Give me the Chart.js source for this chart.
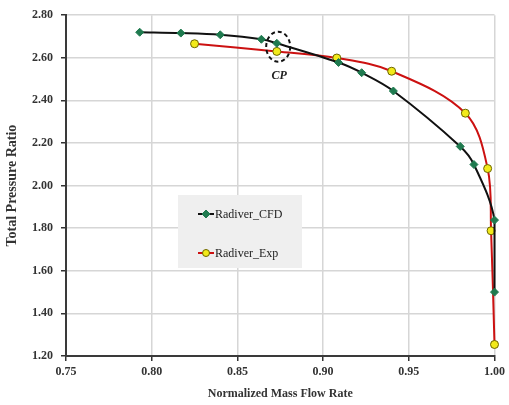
<!DOCTYPE html>
<html>
<head>
<meta charset="utf-8">
<script src="https://cdn.jsdelivr.net/npm/chart.js@4"></script>
<style>
  html, body { margin: 0; padding: 0; background: #fff; }
  #wrap { width: 509px; height: 405px; }
</style>
</head>
<body>
<div id="wrap"><canvas id="myChart" width="509" height="405"></canvas></div>
<script>
// values
const cfdFlow = [0.793, 0.817, 0.840, 0.864, 0.873, 0.909, 0.9225, 0.941, 0.980, 0.988, 1.000, 1.000];
const cfdRatio = [2.720, 2.716, 2.708, 2.687, 2.668, 2.578, 2.530, 2.444, 2.184, 2.099, 1.838, 1.500];
const expFlow = [0.825, 0.873, 0.908, 0.940, 0.983, 0.996, 0.998, 1.000];
const expRatio = [2.666, 2.630, 2.599, 2.537, 2.340, 2.080, 1.788, 1.254];
const seriesNames = ['Radiver_CFD', 'Radiver_Exp'];
const xTicks = [0.75, 0.80, 0.85, 0.90, 0.95, 1.00];
const yTicks = [1.20, 1.40, 1.60, 1.80, 2.00, 2.20, 2.40, 2.60, 2.80];
const cpPoint = { x: 0.8738, y: 2.652, label: 'CP' };

const serif = "'Liberation Serif', 'DejaVu Serif', serif";

document.addEventListener("DOMContentLoaded", () => {
    const ctx = document.getElementById('myChart').getContext('2d');

    const toPoints = (xs, ys) => xs.map((x, i) => ({ x: x, y: ys[i] }));

    // legend box drawn inside the plot, plus the CP marker
    const extras = {
        id: 'extras',
        afterDatasetsDraw(chart) {
            const c = chart.ctx;
            const xs = chart.scales.x, ys = chart.scales.y;

            // CP dashed circle
            const cx = xs.getPixelForValue(cpPoint.x);
            const cy = ys.getPixelForValue(cpPoint.y);
            c.save();
            c.setLineDash([4, 3]);
            c.strokeStyle = '#111';
            c.lineWidth = 2;
            c.beginPath();
            c.ellipse(cx, cy, 12, 15, 0, 0, Math.PI * 2);
            c.stroke();
            c.setLineDash([]);
            c.fillStyle = '#222';
            c.font = "italic bold 12px " + serif;
            c.textAlign = 'center';
            c.textBaseline = 'middle';
            c.fillText(cpPoint.label, cx + 1, cy + 29);

            // legend
            const lx = 178, ly = 195, lw = 124, lh = 73;
            c.fillStyle = '#efefef';
            c.fillRect(lx, ly, lw, lh);
            chart.data.datasets.forEach((ds, i) => {
                const yy = ly + 19 + i * 39;
                c.strokeStyle = ds.borderColor;
                c.lineWidth = 2;
                c.beginPath();
                c.moveTo(lx + 20, yy);
                c.lineTo(lx + 36, yy);
                c.stroke();
                c.fillStyle = ds.pointBackgroundColor;
                c.strokeStyle = ds.pointBorderColor;
                c.lineWidth = 1;
                c.beginPath();
                if (ds.pointStyle === 'rectRot') {
                    c.moveTo(lx + 28, yy - 4);
                    c.lineTo(lx + 32, yy);
                    c.lineTo(lx + 28, yy + 4);
                    c.lineTo(lx + 24, yy);
                    c.closePath();
                } else {
                    c.arc(lx + 28, yy, 3.5, 0, Math.PI * 2);
                }
                c.fill();
                c.stroke();
                c.fillStyle = '#222';
                c.font = "12px " + serif;
                c.textAlign = 'left';
                c.fillText(ds.label, lx + 37, yy + 1);
            });
            c.restore();
        }
    };

    new Chart(ctx, {
        type: 'scatter',
        data: {
            datasets: [{
                label: seriesNames[0],
                data: toPoints(cfdFlow, cfdRatio),
                showLine: true,
                tension: 0.35,
                clip: 6,
                borderColor: '#111111',
                borderWidth: 2,
                pointStyle: 'rectRot',
                pointRadius: 4,
                pointBackgroundColor: '#1f7a4f',
                pointBorderColor: '#1f7a4f',
                pointBorderWidth: 1,
            }, {
                label: seriesNames[1],
                data: toPoints(expFlow, expRatio),
                showLine: true,
                tension: 0.35,
                clip: 6,
                borderColor: '#cc1111',
                borderWidth: 2,
                pointStyle: 'circle',
                pointRadius: 4,
                pointBackgroundColor: '#f2ea1a',
                pointBorderColor: '#6b6400',
                pointBorderWidth: 1,
            }]
        },
        options: {
            responsive: false,
            animation: false,
            layout: { padding: { top: 13, right: 11, left: 0, bottom: 0 } },
            plugins: {
                legend: { display: false },
                tooltip: { enabled: false }
            },
            scales: {
                x: {
                    type: 'linear',
                    min: 0.75,
                    max: 1.0,
                    afterBuildTicks: s => { s.ticks = xTicks.map(v => ({ value: v })); },
                    afterFit: s => { s.height = 49; },
                    ticks: {
                        callback: v => v.toFixed(2),
                        color: '#333',
                        font: { family: serif, size: 12, weight: 'bold' },
                        padding: 4,
                        maxRotation: 0
                    },
                    grid: { color: '#d6d6d6', lineWidth: 1.5, tickLength: 5, tickColor: '#333' },
                    border: { color: '#3a3a3a', width: 2 },
                    title: {
                        display: true,
                        text: 'Normalized Mass Flow Rate',
                        color: '#333',
                        font: { family: serif, size: 12, weight: 'bold' },
                        padding: { top: 4 }
                    }
                },
                y: {
                    type: 'linear',
                    min: 1.2,
                    max: 2.8,
                    afterBuildTicks: s => { s.ticks = yTicks.map(v => ({ value: v })); },
                    afterFit: s => { s.width = 66; },
                    ticks: {
                        callback: v => v.toFixed(2),
                        color: '#333',
                        font: { family: serif, size: 12, weight: 'bold' },
                        padding: 8
                    },
                    grid: { color: '#d6d6d6', lineWidth: 1.5, tickLength: 5, tickColor: '#333' },
                    border: { color: '#3a3a3a', width: 2 },
                    title: {
                        display: true,
                        text: 'Total Pressure Ratio',
                        color: '#333',
                        font: { family: serif, size: 14, weight: 'bold' },
                        padding: { bottom: 2 }
                    }
                }
            }
        },
        plugins: [extras]
    });
});
</script>
</body>
</html>
